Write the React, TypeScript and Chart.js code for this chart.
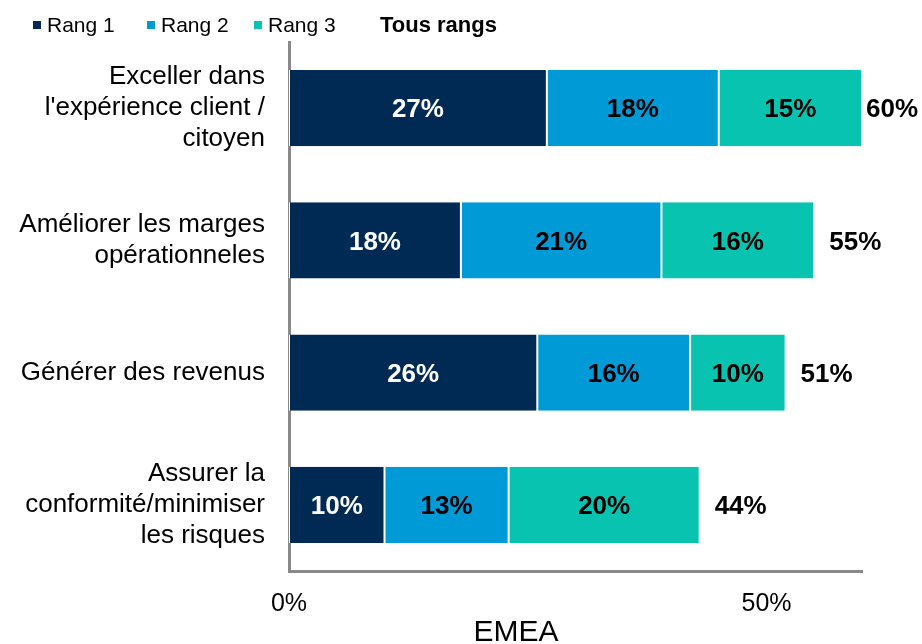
import React, { useEffect, useRef } from "react";
import { Chart, registerables } from "chart.js";

Chart.register(...registerables);

const FONT = "'Liberation Sans', Arial, Helvetica, sans-serif";

const categories: string[][] = [
  ["Exceller dans", "l'expérience client /", "citoyen"],
  ["Améliorer les marges", "opérationneles"],
  ["Générer des revenus"],
  ["Assurer la", "conformité/minimiser", "les risques"],
];
const seriesNames = ["Rang 1", "Rang 2", "Rang 3"];
const rang1 = [27, 18, 26, 10];
const rang2 = [18, 21, 16, 13];
const rang3 = [15, 16, 10, 20];
const totals = [60, 55, 51, 44];
const totalName = "Tous rangs";
const xTickValues = [0, 50];
const xTitle = "EMEA";

const colors = ["#002a54", "#009ad6", "#08c3b0"];
const labelColors = ["#ffffff", "#000000", "#000000"];

const labelPlugin = {
  id: "valueLabels",
  afterDatasetsDraw(chart: any) {
    const ctx = chart.ctx;
    ctx.save();
    ctx.font = `bold 26px ${FONT}`;
    ctx.textBaseline = "middle";
    ctx.textAlign = "center";
    chart.data.datasets.forEach((ds: any, i: number) => {
      const meta = chart.getDatasetMeta(i);
      meta.data.forEach((el: any, j: number) => {
        const { x, y, base } = el.getProps(["x", "y", "base"], true);
        ctx.fillStyle = labelColors[i];
        ctx.fillText(`${ds.data[j]}%`, (x + base) / 2, y + 2);
      });
    });
    const last = chart.getDatasetMeta(chart.data.datasets.length - 1);
    ctx.textAlign = "left";
    ctx.fillStyle = "#000000";
    last.data.forEach((el: any, j: number) => {
      const { x, y } = el.getProps(["x", "y"], true);
      const text = `${totals[j]}%`;
      const w = ctx.measureText(text).width;
      const xx = Math.min(x + 15, chart.width - 4 - w);
      ctx.fillText(text, xx, y + 2);
    });
    ctx.restore();
  },
};

const legendPlugin = {
  id: "customLegend",
  afterDraw(chart: any) {
    const ctx = chart.ctx;
    ctx.save();
    ctx.textBaseline = "middle";
    ctx.textAlign = "left";
    const starts = [33, 147, 254];
    const cy = 25;
    seriesNames.forEach((name, i) => {
      ctx.fillStyle = colors[i];
      ctx.fillRect(starts[i], cy - 4, 8, 8);
      ctx.fillStyle = "#000000";
      ctx.font = `21px ${FONT}`;
      ctx.fillText(name, starts[i] + 14, cy + 1);
    });
    ctx.font = `bold 22px ${FONT}`;
    ctx.fillStyle = "#000000";
    ctx.fillText(totalName, 380, cy + 1);
    // axis title
    ctx.font = `30px ${FONT}`;
    ctx.textAlign = "center";
    ctx.fillText(xTitle, 516, 633);
    ctx.restore();
  },
};

export default function App() {
  const ref = useRef<HTMLCanvasElement | null>(null);

  useEffect(() => {
    if (!ref.current) return;
    const series = [rang1, rang2, rang3];
    const chart = new Chart(ref.current, {
      type: "bar",
      data: {
        labels: categories as any,
        datasets: series.map((data, i) => ({
          label: seriesNames[i],
          data,
          backgroundColor: colors[i],
          borderColor: "#ffffff",
          borderWidth: { left: 1, right: 1, top: 0, bottom: 0 },
          borderSkipped: false,
          categoryPercentage: 1,
          barPercentage: 0.575,
        })),
      },
      options: {
        indexAxis: "y",
        responsive: false,
        animation: false,
        layout: { padding: { top: 42, right: 60, left: 0, bottom: 0 } },
        plugins: {
          legend: { display: false },
          tooltip: { enabled: false },
        },
        scales: {
          x: {
            type: "linear",
            stacked: true,
            min: 0,
            max: 60,
            afterBuildTicks: (scale: any) => {
              scale.ticks = xTickValues.map((v) => ({ value: v }));
            },
            afterFit: (scale: any) => {
              scale.height = 73;
              scale.paddingLeft = 0;
              scale.paddingRight = 0;
            },
            grid: { display: false, drawTicks: false },
            border: { display: true, color: "#898989", width: 3 },
            ticks: {
              callback: (v: any) => `${v}%`,
              font: { family: FONT, size: 25, lineHeight: 1.2 },
              color: "#000000",
              padding: 18,
              maxRotation: 0,
            },
            title: { display: false },
          },
          y: {
            type: "category",
            stacked: true,
            grid: { display: false, drawTicks: false },
            border: { display: true, color: "#898989", width: 3 },
            afterFit: (scale: any) => {
              scale.width = 289;
              scale.paddingTop = 0;
              scale.paddingBottom = 0;
            },
            ticks: {
              font: { family: FONT, size: 26, lineHeight: 1.2 },
              color: "#000000",
              padding: 24,
            },
          },
        },
      } as any,
      plugins: [labelPlugin, legendPlugin],
    });
    return () => chart.destroy();
  }, []);

  return (
    <div style={{ position: "fixed", left: 0, top: 0, width: 922, height: 644, background: "#ffffff" }}>
      <canvas ref={ref} width={922} height={644} style={{ display: "block", width: 922, height: 644 }} />
    </div>
  );
}
